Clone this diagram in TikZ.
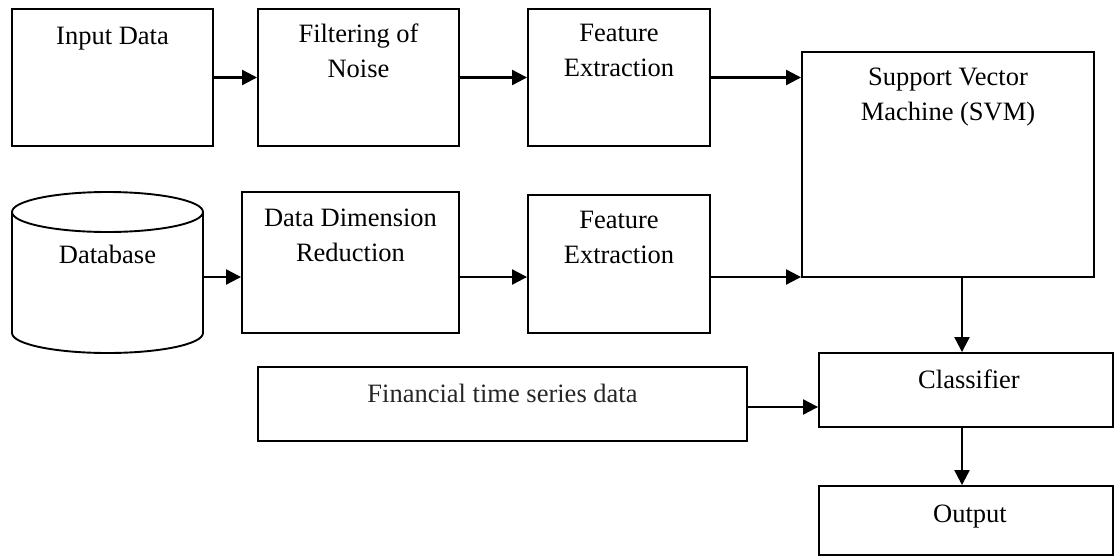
\documentclass[tikz,border=0pt]{standalone}
\usepackage{fontspec}
\setmainfont{Liberation Serif}
\usetikzlibrary{arrows.meta,calc}
\begin{document}
\begin{tikzpicture}[x=1pt,y=-1pt,
  box/.style={draw, line width=1.9pt, inner sep=0pt},
  lbl/.style={anchor=north, inner sep=0pt, align=center,
    font=\fontsize{26.5}{35}\selectfont, execute at begin node={\rule{0pt}{20pt}}},
  arr/.style={line width=2.2pt, -{Triangle[length=15pt,width=15pt]}}]
\useasboundingbox (0,0) rectangle (1116,557);

% boxes
\node[box, minimum width=201pt, minimum height=137pt] (in)   at (112.5,77.5) {};
\node[box, minimum width=201pt, minimum height=137pt] (filt) at (358.5,77.5) {};
\node[box, minimum width=182pt, minimum height=137pt] (fe1)  at (619,77.5) {};
\node[box, minimum width=292pt, minimum height=225pt] (svm)  at (948,164.5) {};
\node[inner sep=0pt, minimum width=191pt, minimum height=160pt] (db) at (107.5,273) {};
\node[box, minimum width=217pt, minimum height=141pt] (ddr)  at (350.5,262.5) {};
\node[box, minimum width=182pt, minimum height=138pt] (fe2)  at (619,264) {};
\node[box, minimum width=489pt, minimum height=74pt]  (fin)  at (502.5,404) {};
\node[box, minimum width=294pt, minimum height=74pt]  (cls)  at (966,390) {};
\node[box, minimum width=294pt, minimum height=69pt]  (out)  at (966,520.5) {};

% database cylinder
\draw[line width=1.9pt] (107.5,212) ellipse [x radius=95.5pt, y radius=20pt];
\draw[line width=1.9pt] (12,212) -- (12,333)
  arc[start angle=180, end angle=360, x radius=95.5pt, y radius=20pt] -- (203,212);

% labels
\node[lbl] (tin)   at (112.5,24.5) {Input Data};
\node[lbl] (tfilt) at (358.5,24) {Filtering of\\Noise};
\node[lbl] (tfe1)  at (619,24) {Feature\\Extraction};
\node[lbl] (tsvm)  at (948,68) {Support Vector\\Machine (SVM)};
\node[lbl] (tdb)   at (107.5,243) {Database};
\node[lbl] (tddr)  at (350.5,209) {Data Dimension\\Reduction};
\node[lbl] (tfe2)  at (619,211) {Feature\\Extraction};
\node[lbl, text=black!85] (tfin) at (502.5,382) {Financial time series data};
\node[lbl] (tcls)  at (969,368) {Classifier};
\node[lbl] (tout)  at (970,502) {Output};

% helper coordinates
\coordinate (r2) at (0,277);
\coordinate (r3) at (0,407);
\coordinate (c)  at (962,0);

% connectors
\draw[arr] (in.east) -- (filt.west);
\draw[arr] (filt.east) -- (fe1.west);
\draw[arr] (fe1.east) -- (fe1.east -| svm.west);
\draw[arr] (db.east |- r2) -- (ddr.west |- r2);
\draw[arr] (ddr.east |- r2) -- (fe2.west |- r2);
\draw[arr] (fe2.east |- r2) -- (r2 -| svm.west);
\draw[arr] (svm.south -| c) -- (cls.north -| c);
\draw[arr] (fin.east |- r3) -- (cls.west |- r3);
\draw[arr] (cls.south -| c) -- (out.north -| c);
\end{tikzpicture}
\end{document}
